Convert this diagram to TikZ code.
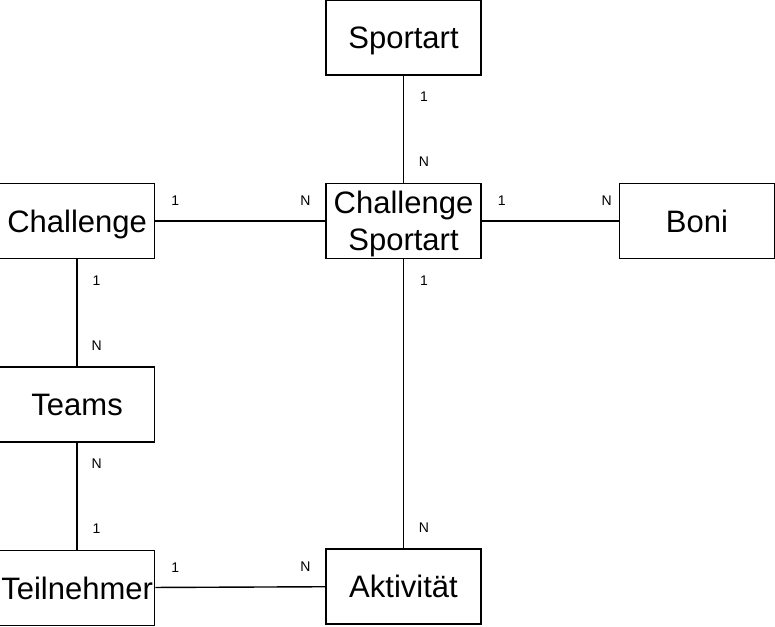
\documentclass[tikz,border=0pt]{standalone}
\usepackage{fontspec}
\setmainfont{Liberation Sans}
\usetikzlibrary{positioning}

\begin{document}
\begin{tikzpicture}[x=1pt, y=-1pt, entity/.style={draw, line width=1.4pt, minimum width=155pt, minimum height=75pt, inner sep=0pt, text depth=0pt, align=center, font=\fontsize{31}{37}\selectfont}, rel/.style={line width=1.4pt}, lab/.style={inner sep=0pt, font=\fontsize{14}{16}\selectfont}]
\useasboundingbox (0,0) rectangle (775,626);
\node[entity] (cs) at (403.5,221) {Challenge\\Sportart};
\node[entity, above=107pt of cs] (sp) {Sportart};
\node[entity, left=170pt of cs] (ch) {Challenge};
\node[entity, right=137pt of cs] (bo) {Boni};
\node[entity, below=107pt of ch] (te) {Teams};
\node[entity, below=107pt of te] (tn) {Teilnehmer};
\node[entity, below=289pt of cs] (ak) {Aktivität};
\draw[rel] (sp) -- (cs) node[lab, at start, xshift=20.5pt, yshift=-21pt] {1} node[lab, at end, xshift=20.5pt, yshift=21pt] {N};
\draw[rel] (ch) -- (cs) node[lab, at start, xshift=20pt, yshift=20pt] {1} node[lab, at end, xshift=-20pt, yshift=20pt] {N};
\draw[rel] (cs) -- (bo) node[lab, at start, xshift=20pt, yshift=20pt] {1} node[lab, at end, xshift=-12pt, yshift=20pt] {N};
\draw[rel] (cs) -- (ak) node[lab, at start, xshift=20.5pt, yshift=-21pt] {1} node[lab, at end, xshift=20.5pt, yshift=21pt] {N};
\draw[rel] (ch) -- (te) node[lab, at start, xshift=19.5pt, yshift=-21pt] {1} node[lab, at end, xshift=19.5pt, yshift=21pt] {N};
\draw[rel] (te) -- (tn) node[lab, at start, xshift=19.5pt, yshift=-21pt] {N} node[lab, at end, xshift=19.5pt, yshift=21pt] {1};
\draw[rel] (tn) -- (ak) node[lab, at start, xshift=20pt, yshift=20pt] {1} node[lab, at end, xshift=-20pt, yshift=20pt] {N};
\end{tikzpicture}
\end{document}
